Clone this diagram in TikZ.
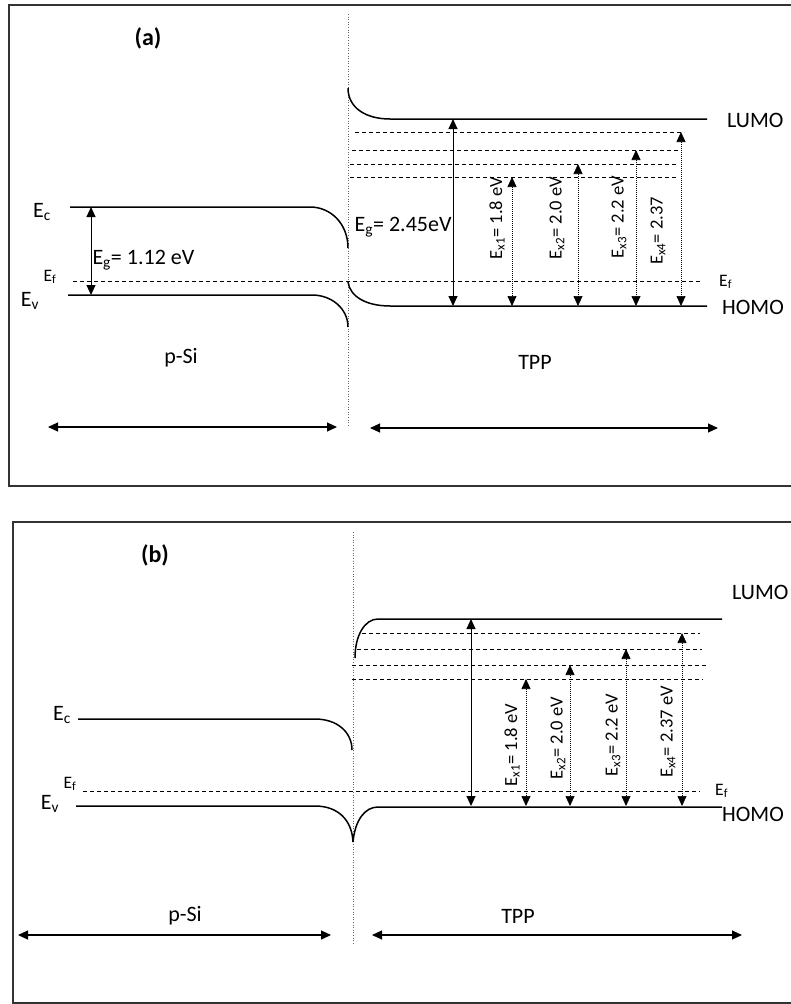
\documentclass[tikz,border=0pt]{standalone}
\usepackage{fontspec}
\setmainfont{Carlito}
\usetikzlibrary{arrows.meta}

\begin{document}
\begin{tikzpicture}[x=1pt,y=-1pt,
  frame/.style={line width=1.5pt, black!80},
  band/.style={line width=1.5pt},
  trap/.style={line width=1pt, dash pattern=on 4pt off 3pt},
  iface/.style={line width=0.6pt, dotted, black!60},
  gap/.style={{Triangle[length=10pt,width=9pt]}-{Triangle[length=10pt,width=9pt]}, line width=1pt},
  exc/.style={gap, line width=0.7pt, dash pattern=on 1pt off 1pt},
  span/.style={{Triangle[length=10pt,width=9pt]}-{Triangle[length=10pt,width=9pt]}, line width=1.1pt},
  lbl/.style={font=\fontsize{22}{24}\selectfont, inner sep=0pt},
  sml/.style={font=\fontsize{17.5}{19}\selectfont, inner sep=0pt},
  exlbl/.style={font=\fontsize{18.5}{20}\selectfont, rotate=90, inner sep=0pt},
  tag/.style={font=\fontsize{24}{26}\selectfont\bfseries, inner sep=0pt}
]
  \useasboundingbox (0,0) rectangle (790,1004);

  % ---------- panel (a)
  \draw[frame] (800,5) -- (9,5) -- (9,486) -- (800,486);
  \node[tag] (tagA) at (148,38) {(a)};
  \draw[iface] (348,14) -- (348,427);

  % p-Si side
  \draw[band] (70,207) -- (310,207) .. controls (331,207) and (348,224) .. (348,248);
  \draw[band] (68,295) -- (312,295) .. controls (332,295) and (348,309) .. (348,327);
  \draw[trap] (73,281) -- (702,281);
  \node[lbl] (aEc) at (42,212) {E\textsubscript{c}};
  \node[lbl] (aEv) at (30,301) {E\textsubscript{v}};
  \node[sml] (aEf) at (50,277) {E\textsubscript{f}};
  \coordinate (aSiC) at (91,207);
  \coordinate (aSiV) at (91,295);
  \draw[gap] (aSiC) -- (aSiV) node[lbl, pos=0.6, right=1pt] (aSiEg) {E\textsubscript{g}= 1.12 eV};

  % TPP side
  \draw[band] (348,88) .. controls (348,108) and (366,119) .. (390,119) -- (707,119);
  \draw[band] (348,282) .. controls (350,297) and (367,306) .. (390,306) -- (707,306);
  \foreach \y/\xa/\xb in {132/355/684, 150/352/681, 164/350/678, 177/350/678}
    \draw[trap] (\xa,\y) -- (\xb,\y);
  \node[lbl, anchor=west] (aLumo) at (727,120) {LUMO};
  \node[lbl, anchor=west] (aHomo) at (722,307) {HOMO};
  \node[sml, anchor=west] (aEfR) at (719,282) {E\textsubscript{f}};
  \coordinate (aTpL) at (453,119);
  \coordinate (aTpH) at (453,306);
  \draw[gap] (aTpL) -- (aTpH) node[lbl, pos=0.58, left=1pt] (aTpEg) {E\textsubscript{g}= 2.45eV};
  \foreach \n/\x/\y/\lx/\ly/\t in {1/512/177/497/218/{1.8 eV}, 2/578/164/557/218/{2.0 eV},
                                  3/636/150/619/217/{2.2 eV}, 4/681/132/658/231/{2.37}} {
    \coordinate (aXt\n) at (\x,\y);
    \coordinate (aXb\n) at (\x,306);
    \draw[exc] (aXt\n) -- (aXb\n);
    \node[exlbl] (aXl\n) at (\lx,\ly) {E\textsubscript{x\n}= \t};
  }

  % widths
  \coordinate (aSiA) at (48,427);
  \coordinate (aSiB) at (337,427);
  \coordinate (aTpA) at (370,428);
  \coordinate (aTpB) at (718,428);
  \draw[span] (aSiA) -- (aSiB);
  \draw[span] (aTpA) -- (aTpB);
  \node[lbl] (aSi) at (181,358) {p-Si};
  \node[lbl] (aTpp) at (535,362) {TPP};

  % ---------- panel (b)
  \draw[frame] (800,522) -- (13,522) -- (13,1003) -- (800,1003);
  \node[tag] (tagB) at (155,555) {(b)};
  \draw[iface] (353,532) -- (353,943);

  % p-Si side
  \draw[band] (78,719) -- (315,719) .. controls (337,719) and (352,732) .. (352,750);
  \draw[band] (76,806) -- (315,806) .. controls (338,806) and (352,820) .. (353,842);
  \draw[trap] (83,791) -- (700,791);
  \node[lbl] (bEc) at (62,715) {E\textsubscript{c}};
  \node[lbl] (bEv) at (50,804) {E\textsubscript{v}};
  \node[sml] (bEf) at (70,784) {E\textsubscript{f}};

  % TPP side
  \draw[band] (355,658) .. controls (355,635) and (365,619) .. (378,619) -- (722,619);
  \draw[band] (353,842) .. controls (355,820) and (365,807) .. (378,807) -- (722,807);
  \foreach \y/\xa/\xb in {633/362/700, 649/357/702, 665/352/707, 679/352/703}
    \draw[trap] (\xa,\y) -- (\xb,\y);
  \node[lbl, anchor=west] (bLumo) at (732,592) {LUMO};
  \node[lbl, anchor=west] (bHomo) at (722,814) {HOMO};
  \node[sml, anchor=west] (bEfR) at (715,791) {E\textsubscript{f}};
  \coordinate (bTpL) at (471,619);
  \coordinate (bTpH) at (471,806);
  \draw[gap] (bTpL) -- (bTpH);
  \foreach \n/\x/\y/\lx/\ly/\t in {1/526/679/512/745/{1.8 eV}, 2/570/665/558/738/{2.0 eV},
                                  3/626/649/613/735/{2.2 eV}, 4/682/633/668/732/{2.37 eV}} {
    \coordinate (bXt\n) at (\x,\y);
    \coordinate (bXb\n) at (\x,806);
    \draw[exc] (bXt\n) -- (bXb\n);
    \node[exlbl] (bXl\n) at (\lx,\ly) {E\textsubscript{x\n}= \t};
  }

  % widths
  \coordinate (bSiA) at (18,935);
  \coordinate (bSiB) at (331,935);
  \coordinate (bTpA) at (372,935);
  \coordinate (bTpB) at (742,935);
  \draw[span] (bSiA) -- (bSiB);
  \draw[span] (bTpA) -- (bTpB);
  \node[lbl] (bSi) at (185,916) {p-Si};
  \node[lbl] (bTpp) at (518,916) {TPP};
\end{tikzpicture}
\end{document}
